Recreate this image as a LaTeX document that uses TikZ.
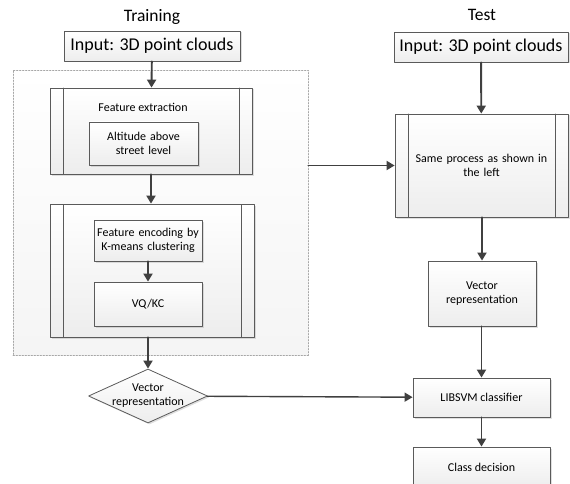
\documentclass[tikz,border=0pt]{standalone}
\usepackage{fontspec}
\setmainfont{Carlito}
\usetikzlibrary{shapes.geometric,shadows,arrows.meta}

\definecolor{edgegray}{HTML}{5A5A5A}
\definecolor{arrowgray}{HTML}{404040}

\tikzset{
  box/.style={draw=edgegray, line width=0.8pt, top color=white, bottom color=gray!14,
    drop shadow={shadow xshift=1.5pt, shadow yshift=-1.5pt, opacity=0.25},
    align=center, inner sep=2pt, font=\fontsize{12}{14}\selectfont},
  bigbox/.style={box, font=\fontsize{18}{20}\selectfont},
  procbox/.style={box, path picture={
      \draw[edgegray, line width=0.8pt]
        ([xshift=13pt]path picture bounding box.north west) -- ([xshift=13pt]path picture bounding box.south west)
        ([xshift=-13pt]path picture bounding box.north east) -- ([xshift=-13pt]path picture bounding box.south east);}},
  decision/.style={box, shape=diamond, aspect=2.2, inner sep=-4pt},
  flow/.style={-{Triangle[length=8pt,width=9pt]}, arrowgray, line width=1.9pt},
  title/.style={font=\fontsize{17.5}{20}\selectfont}
}

\begin{document}
\begin{tikzpicture}[x=1pt, y=-1pt, line cap=round, line join=round]

  \useasboundingbox (0,0) rectangle (570,484);

  % Titles
  \node[title] (ttrain) at (152,17) {Training};
  \node[title] (ttest)  at (482,15) {Test};

  % Training column
  \node[bigbox, minimum width=176pt, minimum height=30pt] (in1) at (152,46) {Input: 3D point clouds};

  % dotted frame round the training steps
  \node[draw=gray!70, dashed, dash pattern=on 1.5pt off 1.5pt, line width=0.6pt,
        top color=white, bottom color=gray!8,
        minimum width=295pt, minimum height=285pt] (grp) at (160.5,212.5) {};

  \node[procbox, minimum width=202pt, minimum height=86pt] (fe) at (151,131) {};
  \node[font=\fontsize{12}{14}\selectfont] (fetitle) at (143,107) {Feature extraction};
  \node[box, minimum width=109pt, minimum height=43pt, text width=105pt] (alt) at (143.5,143.5) {Altitude above\\street level};

  \node[procbox, minimum width=204pt, minimum height=133pt] (enc) at (152,270.5) {};
  \node[box, minimum width=108pt, minimum height=41pt, text width=104pt] (kmb) at (148,240.5) {Feature encoding by\\K-means clustering};
  \node[box, minimum width=108pt, minimum height=44pt] (vq) at (148,304) {VQ/KC};

  \node[decision, minimum width=119pt, minimum height=54pt] (vec1) at (148,396) {Vector\\representation};

  % Test column
  \node[bigbox, minimum width=174pt, minimum height=30pt] (in2) at (481,47) {Input: 3D point clouds};
  \node[procbox, minimum width=173pt, minimum height=103pt, text width=150pt] (same) at (481.5,165.5) {Same process as shown in\\the left};
  \node[box, minimum width=108pt, minimum height=65pt, text width=104pt] (vec2) at (482,293.5) {Vector\\representation};
  \node[box, minimum width=137pt, minimum height=39pt] (svm) at (481.5,397.5) {LIBSVM classifier};
  \node[box, minimum width=137pt, minimum height=40pt] (cls) at (481.5,467) {Class decision};

  % Connectors
  \draw[flow] (in1) -- (fe);
  \draw[flow] (fe) -- (fe.south |- enc.north);
  \draw[flow] (kmb) -- (vq);
  \draw[flow] (enc.south -| vec1.north) -- (vec1);
  \draw[flow] (grp.east |- same.west) -- (same);
  \draw[flow] (in2) -- (same);
  \draw[flow] (same.south -| vec2.north) -- (vec2);
  \draw[flow] (vec2.south -| svm.north) -- (svm);
  \draw[flow, line width=1.4pt] (vec1) -- (svm);
  \draw[flow] (svm) -- (cls);

\end{tikzpicture}
\end{document}
